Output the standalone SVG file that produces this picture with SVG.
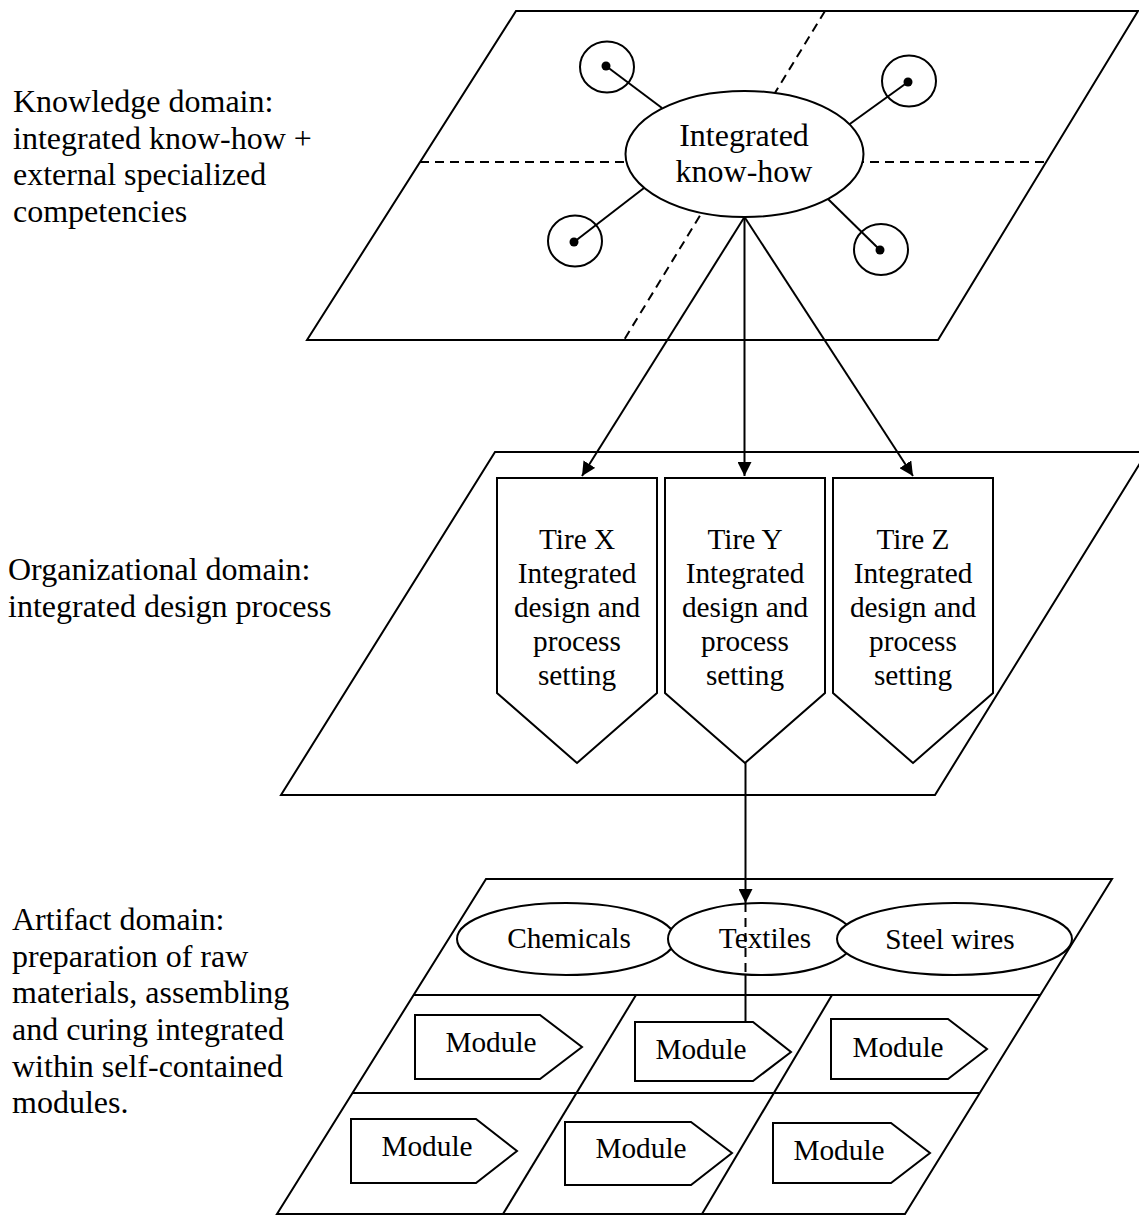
<svg xmlns="http://www.w3.org/2000/svg" width="1139" height="1215" viewBox="0 0 1139 1215">
  <style>
    .edge { fill: none; stroke: #000; stroke-width: 2; }
    .plane { fill: #fff; stroke: #000; stroke-width: 2; }
    .shape { fill: #fff; stroke: #000; stroke-width: 2; }
    .dash { fill: none; stroke: #000; stroke-width: 2; stroke-dasharray: 9 6; }
    .label { font-family: "Liberation Serif", "Times New Roman", serif; font-size: 32px; fill: #000; }
    .big { font-family: "Liberation Serif", "Times New Roman", serif; font-size: 32px; fill: #000; text-anchor: middle; }
    .txt { font-family: "Liberation Serif", "Times New Roman", serif; font-size: 29.3px; fill: #000; text-anchor: middle; }
  </style>
  <defs>
    <marker id="arrow" markerWidth="14" markerHeight="14" refX="14" refY="7" orient="auto" markerUnits="userSpaceOnUse">
      <path d="M0,0 L14,7 L0,14 Z" fill="#000"/>
    </marker>
  </defs>
  <rect width="1139" height="1215" fill="#fff"/>

  <!-- Domain captions -->
  <g id="caption-knowledge" class="label">
    <text x="13" y="112">Knowledge domain:</text>
    <text x="13" y="148.7">integrated know-how +</text>
    <text x="13" y="185.3">external specialized</text>
    <text x="13" y="222">competencies</text>
  </g>
  <g id="caption-organizational" class="label">
    <text x="8" y="580">Organizational domain:</text>
    <text x="8" y="617">integrated design process</text>
  </g>
  <g id="caption-artifact" class="label">
    <text x="12" y="930">Artifact domain:</text>
    <text x="12" y="966.7">preparation of raw</text>
    <text x="12" y="1003.3">materials, assembling</text>
    <text x="12" y="1040">and curing integrated</text>
    <text x="12" y="1076.7">within self-contained</text>
    <text x="12" y="1113.3">modules.</text>
  </g>

  <!-- Knowledge plane -->
  <g id="knowledge-plane">
    <polygon class="plane" points="516,11 1138,11 938,340 307,340"/>
    <line class="dash" x1="420" y1="162" x2="1046" y2="162"/>
    <line class="dash" x1="825" y1="11" x2="624" y2="340"/>
  </g>

  <!-- Spokes from the external competencies to the core -->
  <g id="spokes">
    <line class="edge" x1="606" y1="66" x2="662" y2="108"/>
    <line class="edge" x1="908" y1="82" x2="847" y2="126"/>
    <line class="edge" x1="574" y1="242" x2="644" y2="188"/>
    <line class="edge" x1="880" y1="250" x2="828" y2="199"/>
  </g>

  <g id="competency-1">
    <ellipse class="edge" cx="607" cy="67" rx="27" ry="25.5"/>
    <circle cx="606" cy="66" r="4.5" fill="#000"/>
  </g>
  <g id="competency-2">
    <ellipse class="edge" cx="909" cy="81" rx="27" ry="25.5"/>
    <circle cx="908" cy="82" r="4.5" fill="#000"/>
  </g>
  <g id="competency-3">
    <ellipse class="edge" cx="575" cy="241" rx="27" ry="25.5"/>
    <circle cx="574" cy="242" r="4.5" fill="#000"/>
  </g>
  <g id="competency-4">
    <ellipse class="edge" cx="881" cy="249.5" rx="27" ry="25.5"/>
    <circle cx="880" cy="250" r="4.5" fill="#000"/>
  </g>

  <g id="integrated-know-how">
    <ellipse class="shape" cx="744.5" cy="154" rx="119" ry="63"/>
    <text class="big" x="744" y="146">Integrated</text>
    <text class="big" x="744" y="182">know-how</text>
  </g>

  <!-- Organizational plane -->
  <g id="organizational-plane">
    <polygon class="plane" points="495,452 1147,452 935,795 281,795"/>
  </g>

  <g id="tire-x">
    <polygon class="shape" points="497,478 657,478 657,693 577,763 497,693"/>
    <text class="txt" x="577" y="549">Tire X</text>
    <text class="txt" x="577" y="583">Integrated</text>
    <text class="txt" x="577" y="617">design and</text>
    <text class="txt" x="577" y="651">process</text>
    <text class="txt" x="577" y="685">setting</text>
  </g>
  <g id="tire-y">
    <polygon class="shape" points="665,478 825,478 825,693 745,763 665,693"/>
    <text class="txt" x="745" y="549">Tire Y</text>
    <text class="txt" x="745" y="583">Integrated</text>
    <text class="txt" x="745" y="617">design and</text>
    <text class="txt" x="745" y="651">process</text>
    <text class="txt" x="745" y="685">setting</text>
  </g>
  <g id="tire-z">
    <polygon class="shape" points="833,478 993,478 993,693 913,763 833,693"/>
    <text class="txt" x="913" y="549">Tire Z</text>
    <text class="txt" x="913" y="583">Integrated</text>
    <text class="txt" x="913" y="617">design and</text>
    <text class="txt" x="913" y="651">process</text>
    <text class="txt" x="913" y="685">setting</text>
  </g>

  <!-- Artifact plane -->
  <g id="artifact-plane">
    <polygon class="plane" points="486,879 1112,879 905,1214 277,1214"/>
    <line class="edge" x1="413" y1="995" x2="1040" y2="995"/>
    <line class="edge" x1="352" y1="1093" x2="979" y2="1093"/>
    <line class="edge" x1="636" y1="995" x2="503" y2="1214"/>
    <line class="edge" x1="832" y1="995" x2="702" y2="1214"/>
  </g>

  <g id="chemicals">
    <ellipse class="shape" cx="566" cy="939" rx="109" ry="36"/>
    <text class="txt" x="569" y="948">Chemicals</text>
  </g>
  <g id="textiles">
    <ellipse class="shape" cx="761" cy="939" rx="93" ry="36"/>
    <text class="txt" x="765" y="948">Textiles</text>
  </g>
  <g id="steel-wires">
    <ellipse class="shape" cx="954.5" cy="939" rx="117.5" ry="36"/>
    <text class="txt" x="950" y="949">Steel wires</text>
  </g>

  <g id="module-1">
    <polygon class="shape" points="415,1015 540,1015 582,1047 540,1079 415,1079"/>
    <text class="txt" x="491" y="1052">Module</text>
  </g>
  <g id="module-2">
    <polygon class="shape" points="635,1022 753,1022 791,1052 753,1081 635,1081"/>
    <text class="txt" x="701" y="1059">Module</text>
  </g>
  <g id="module-3">
    <polygon class="shape" points="831,1019 948,1019 987,1049 948,1079 831,1079"/>
    <text class="txt" x="898" y="1057">Module</text>
  </g>
  <g id="module-4">
    <polygon class="shape" points="351,1119 476,1119 517,1151 476,1183 351,1183"/>
    <text class="txt" x="427" y="1156">Module</text>
  </g>
  <g id="module-5">
    <polygon class="shape" points="565,1122 691,1122 732,1153 691,1185 565,1185"/>
    <text class="txt" x="641" y="1158">Module</text>
  </g>
  <g id="module-6">
    <polygon class="shape" points="773,1123 891,1123 930,1153 891,1183 773,1183"/>
    <text class="txt" x="839" y="1160">Module</text>
  </g>

  <!-- Connectors -->
  <g id="connectors">
    <line class="edge" x1="744.5" y1="217" x2="582" y2="476" marker-end="url(#arrow)"/>
    <line class="edge" x1="744.5" y1="217" x2="744.5" y2="476" marker-end="url(#arrow)"/>
    <line class="edge" x1="744.5" y1="217" x2="913" y2="476" marker-end="url(#arrow)"/>
    <line class="edge" x1="745.5" y1="763" x2="745.5" y2="903" marker-end="url(#arrow)"/>
    <line class="dash" x1="745.5" y1="903" x2="745.5" y2="975"/>
    <line class="edge" x1="745.5" y1="975" x2="745.5" y2="1022"/>
  </g>
</svg>
